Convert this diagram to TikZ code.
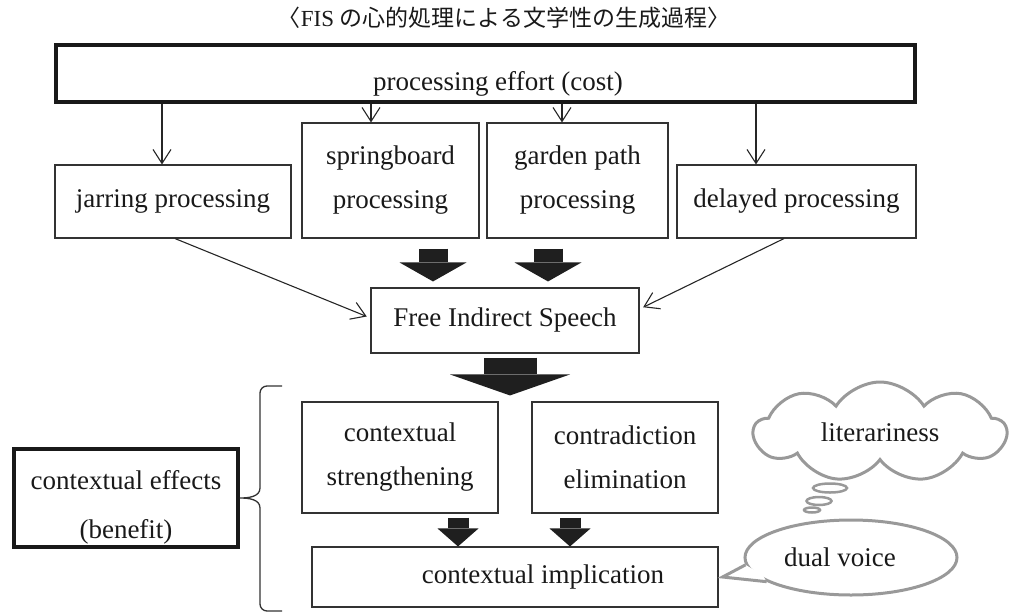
\documentclass[tikz,border=0pt]{standalone}
\usepackage{fontspec}
\setmainfont{Liberation Serif}
\newfontfamily\cjk{Noto Sans CJK JP}
\usetikzlibrary{arrows.meta,shapes.geometric,shapes.symbols}

\begin{document}
\begin{tikzpicture}[
  x=1pt, y=-1pt,
  box/.style 2 args={draw=black!80, line width=1.1pt, minimum width=#1,
                     minimum height=#2, inner sep=0pt, align=center,
                     text=black!90, font=\fontsize{27}{44}\selectfont},
  heavy/.style={line width=4pt, draw=black!90},
  arr/.style={-{Straight Barb[length=14pt,width=18pt,line width=1.1pt]},
              line width=1.1pt, draw=black!85},
  blk/.style n args={3}{line width=#1, draw=black!88,
              -{Triangle[length=#3,width=#2,line width=0pt]}},
  grey/.style={draw=black!40, line width=3pt},
  brc/.style={draw=black!80, line width=1.3pt}
]
  \useasboundingbox (0,0) rectangle (1011,613);

  % Titre
  \node[font=\fontsize{23}{27}\selectfont, text=black!90] (title) at (504,18)
    {{\cjk 〈}FIS {\cjk の心的処理による文学性の生成過程〉}};

  % Boîtes
  \node[box={859}{57}, heavy] (top) at (485,73)
    {\rule{0pt}{40pt}\hspace*{26pt}processing effort (cost)};
  \node[box={236}{73}]  (jar) at (173,201.5) {jarring processing};
  \node[box={177}{115}] (spr) at (390.5,180.5) {springboard\\processing};
  \node[box={181}{115}] (gar) at (577.5,180.5) {garden path\\processing};
  \node[box={239}{73}]  (del) at (796.5,201.5) {delayed processing};
  \node[box={268}{65}]  (fis) at (505,320.5) {Free Indirect Speech};
  \node[box={196}{111}] (str) at (400,457.5) {contextual\\strengthening};
  \node[box={186}{111}] (con) at (625,457.5) {contradiction\\elimination};
  \node[box={406}{60}]  (imp) at (515,577) {\hspace*{56pt}contextual implication};
  \node[box={224}{98}, heavy] (eff) at (126,498)
    {\rule{0pt}{37pt}contextual effects\\[5pt](benefit)};

  % Flèches fines
  \draw[arr] (top.south -| 162,0) -- (jar.north -| 162,0);
  \draw[arr] (top.south -| 371,0) -- (spr.north -| 371,0);
  \draw[arr] (top.south -| 562,0) -- (gar.north -| 562,0);
  \draw[arr] (top.south -| 756,0) -- (del.north -| 756,0);
  \draw[arr, shorten >=4pt] (jar.south -| 175,0) -- (fis.west |- 0,318);
  \draw[arr, shorten >=4pt] (del.south -| 784,0) -- (fis.east |- 0,309);

  % Flèches pleines
  \draw[blk={29pt}{67pt}{19pt}, shorten <=10pt, shorten >=6pt]
    (spr.south -| 433,0) -- (fis.north -| 433,0);
  \draw[blk={29pt}{67pt}{19pt}, shorten <=10pt, shorten >=6pt]
    (gar.south -| 548,0) -- (fis.north -| 548,0);
  \draw[blk={53pt}{120pt}{21pt}, shorten <=4pt, shorten >=6pt]
    (fis.south -| 510,0) -- (str.north -| 510,0);
  \draw[blk={21pt}{41pt}{18pt}, shorten <=4pt]
    (str.south -| 458,0) -- (imp.north -| 458,0);
  \draw[blk={21pt}{41pt}{18pt}, shorten <=4pt]
    (con.south -| 570,0) -- (imp.north -| 570,0);

  % Accolade
  \draw[brc] (282,386) -- (267,386) to[out=180,in=90] (260,393) -- (260,488)
    to[out=270,in=0] (eff.east) to[out=0,in=90] (260,508) -- (260,604)
    to[out=270,in=180] (267,611) -- (282,611);

  % Bulles
  \node[cloud, cloud puffs=9, cloud puff arc=115, cloud ignores aspect,
        minimum width=252, minimum height=100, grey, text=black!90,
        font=\fontsize{27}{30}\selectfont] (lit) at (880,432) {literariness};
  \node[ellipse, grey, line width=2.5pt, minimum width=34, minimum height=9, inner sep=0pt] (b1) at (830,488) {};
  \node[ellipse, grey, line width=2.5pt, minimum width=25, minimum height=8, inner sep=0pt] (b2) at (819,501) {};
  \node[ellipse, grey, line width=2.5pt, minimum width=16, minimum height=5, inner sep=0pt] (b3) at (812,510) {};
  \node[ellipse, grey, fill=white, minimum width=212, minimum height=75, inner sep=0pt,
        text=black!90, font=\fontsize{27}{30}\selectfont] (dv) at (851,557.5) {dual voice\hspace*{22pt}};
  \coordinate (tip) at ([xshift=4pt]imp.east);
  \fill[white] (dv.184) -- (tip) -- (dv.196) -- ([xshift=8pt]dv.190) -- cycle;
  \draw[grey, line join=miter] (dv.184) -- (tip) -- (dv.196);
\end{tikzpicture}
\end{document}
